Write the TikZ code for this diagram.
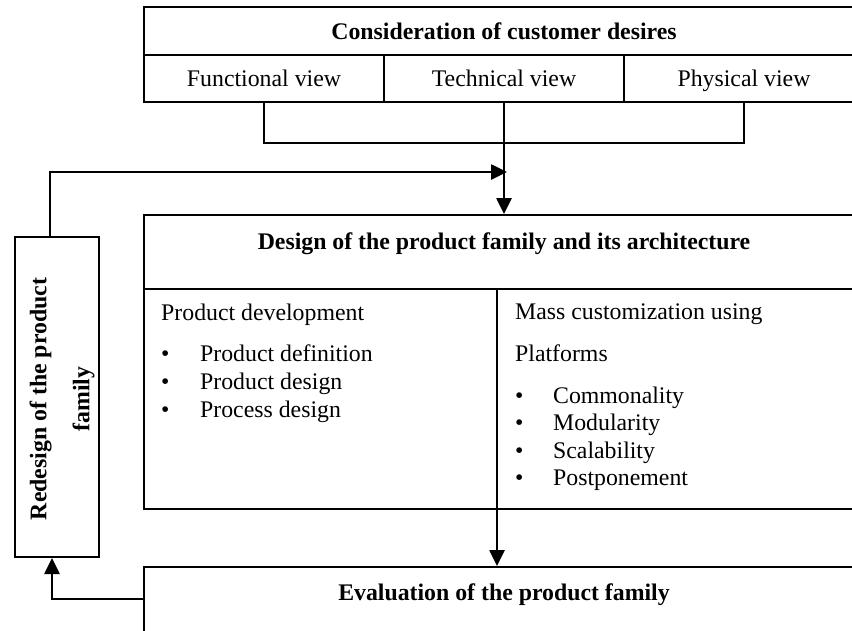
\documentclass[tikz,border=0pt]{standalone}
\usepackage{fontspec}
\setmainfont{Liberation Serif}
\usetikzlibrary{positioning,arrows.meta}
\newcommand\diafont{\fontsize{23.8pt}{28pt}\selectfont}

\begin{document}
\begin{tikzpicture}[x=1pt,y=-1pt,
  every node/.style={font=\diafont},
  cell/.style={draw,line width=2pt,inner sep=0pt,text height=16pt,text depth=0pt},
  headfont/.style={font=\diafont\bfseries},
  link/.style={line width=2.2pt},
  flow/.style={line width=2.6pt,-{Triangle[length=16pt,width=15pt]}},
  item/.style={anchor=base west,inner sep=0pt}]
\fill[white] (0,0) rectangle (852,630);
\useasboundingbox (0,0) rectangle (852,630);
\clip (0,0) rectangle (852,630);
% customer desires
\node[cell,headfont,minimum width=720pt,minimum height=48pt] (desires) at (504,31) {Consideration of customer desires};
\node[cell,minimum width=240pt,minimum height=47pt,below of = desires,node distance=47.5pt] (technical) {Technical view};
\node[cell,minimum width=240pt,minimum height=47pt,left of = technical,node distance=240pt] (functional) {Functional view};
\node[cell,minimum width=240pt,minimum height=47pt,right of = technical,node distance=240pt] (physical) {Physical view};
% design of the family
\node[cell,minimum width=720pt,minimum height=294pt] (design) at (504,362) {};
\node[headfont,anchor=base] (designtitle) at (504,249) {Design of the product family and its architecture};
\coordinate (hsplit) at (144,289);
\coordinate (vsplit) at (497,289);
\draw[line width=2pt] (hsplit) -- (hsplit -| design.east);
\draw[line width=2pt] (vsplit) -- (vsplit |- design.south);
\node[item] (pdev) at (161,320) {Product development};
\node[item] (pdef) at ([yshift=-41pt]pdev.base west) {\makebox[39pt][l]{\textbullet}Product definition};
\node[item] (pdes) at ([yshift=-28pt]pdef.base west) {\makebox[39pt][l]{\textbullet}Product design};
\node[item] (prdes) at ([yshift=-28pt]pdes.base west) {\makebox[39pt][l]{\textbullet}Process design};
\node[item] (mass) at (515,319) {Mass customization using};
\node[item] (platforms) at ([yshift=-42pt]mass.base west) {Platforms};
\node[item] (common) at ([yshift=-42pt]platforms.base west) {\makebox[38pt][l]{\textbullet}Commonality};
\node[item] (modular) at ([yshift=-27.5pt]common.base west) {\makebox[38pt][l]{\textbullet}Modularity};
\node[item] (scalab) at ([yshift=-27.5pt]modular.base west) {\makebox[38pt][l]{\textbullet}Scalability};
\node[item] (postpone) at ([yshift=-27.5pt]scalab.base west) {\makebox[38pt][l]{\textbullet}Postponement};
% evaluation and redesign
\node[cell,minimum width=720pt,minimum height=100pt] (evaluation) at (504,617) {};
\node[headfont,anchor=base] (evaltitle) at (504,600) {Evaluation of the product family};
\node[cell,minimum width=84pt,minimum height=320pt] (redesign) at (57,397) {};
\node[headfont,rotate=90,align=center] (redesigntitle) at (62,399) {Redesign of the product\\[15pt]family};
% connectors
\coordinate (techjoin) at (504,143);
\draw[link] (functional.south) |- (techjoin) -| (physical.south);
\draw[flow] (technical.south) -- (design.north);
\coordinate (feedin) at (507,172);
\draw[flow] ([xshift=-7pt]redesign.north) |- (feedin);
\coordinate (evalout) at (144,599);
\draw[flow] (evalout) -| ([xshift=-5pt]redesign.south);
\draw[flow] (vsplit |- design.south) -- (vsplit |- evaluation.north);
\end{tikzpicture}
\end{document}
